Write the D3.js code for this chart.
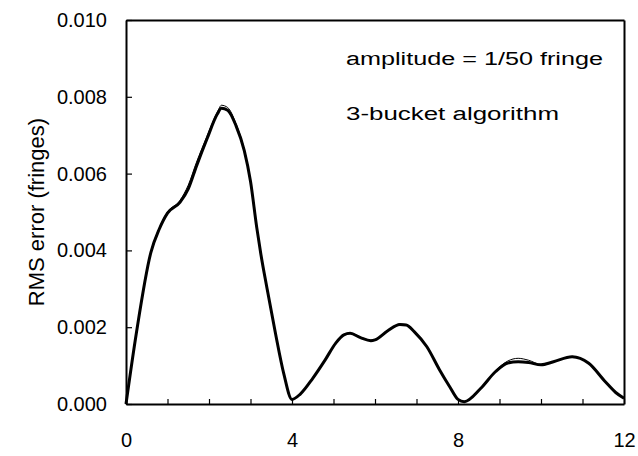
<!DOCTYPE html>
<html>
<head>
<meta charset="utf-8">
<script src="https://cdn.jsdelivr.net/npm/d3@7"></script>
<style>
  html, body { margin: 0; padding: 0; background: #fff; }
  svg { display: block; }
  text { font-family: "Liberation Sans", Arial, sans-serif; fill: #000; }
</style>
</head>
<body>
<svg id="chart" width="638" height="456"></svg>
<script>
// ---- data ----
const xValues = [0, 0.25, 0.6, 0.8, 1.0, 1.3, 1.5, 1.7, 1.95, 2.2, 2.3, 2.45, 2.65, 2.85, 3.0, 3.15, 3.25, 3.4, 3.6, 3.8, 4.0,
  4.2, 4.5, 4.8, 5.05, 5.25, 5.4, 5.65, 5.9, 6.0, 6.3, 6.6, 6.75, 6.95, 7.25, 7.55, 7.8, 8.0,
  8.15, 8.55, 8.9, 9.2, 9.45, 9.7, 10.0, 10.3, 10.75, 11.15, 11.55, 11.8, 12.0];
const rmsThick = [0, 0.00185, 0.00395, 0.00455, 0.00497, 0.00525, 0.0056, 0.0062, 0.0069, 0.00755, 0.0077, 0.00765, 0.00725, 0.0066, 0.0058, 0.0046, 0.0039, 0.0030, 0.00185, 0.0008, 0.00012,
  0.00026, 0.00067, 0.00115, 0.00158, 0.0018, 0.00184, 0.00173, 0.00165, 0.00167, 0.0019, 0.00207, 0.00206, 0.00188, 0.00149, 0.0009, 0.00045, 0.00012,
  0.00006, 0.00041, 0.00084, 0.00107, 0.0011, 0.00108, 0.00102, 0.0011, 0.00123, 0.00106, 0.00058, 0.0003, 0.00015];
const rmsThin = [0, 0.00185, 0.00397, 0.00458, 0.005, 0.0053, 0.0057, 0.0063, 0.00697, 0.0076, 0.00778, 0.00772, 0.0073, 0.00662, 0.0058, 0.0046, 0.0039, 0.0030, 0.00185, 0.0008, 0.00012,
  0.00026, 0.00067, 0.00115, 0.00158, 0.00181, 0.00185, 0.00174, 0.00166, 0.00168, 0.0019, 0.00208, 0.00207, 0.00188, 0.00149, 0.0009, 0.00045, 0.00012,
  0.00006, 0.00041, 0.00086, 0.00112, 0.00119, 0.00114, 0.00103, 0.0011, 0.00124, 0.00107, 0.00058, 0.0003, 0.00015];
const yTicks = [0, 0.002, 0.004, 0.006, 0.008, 0.010];
const xTicks = [0, 1, 2, 3, 4, 5, 6, 7, 8, 9, 10, 11, 12];
const xLabelTicks = [0, 4, 8, 12];
const annotations = ["amplitude = 1/50 fringe", "3-bucket algorithm"];
const yTitle = "RMS error (fringes)";

// ---- layout ----
const svg = d3.select("#chart");
const mLeft = 126, mRight = 624, mTop = 20, mBottom = 404;

const x = d3.scaleLinear().domain([0, 12]).range([mLeft, mRight]);
const y = d3.scaleLinear().domain([0, 0.010]).range([mBottom, mTop]);

// frame (top & right)
svg.append("g").attr("transform", `translate(0,${mTop})`)
  .call(d3.axisTop(x).tickValues([]).tickSizeOuter(0))
  .call(g => g.select(".domain").attr("stroke-width", 2));
svg.append("g").attr("transform", `translate(${mRight},0)`)
  .call(d3.axisRight(y).tickValues([]).tickSizeOuter(0))
  .call(g => g.select(".domain").attr("stroke-width", 2));

// left axis
svg.append("g").attr("transform", `translate(${mLeft},0)`)
  .call(d3.axisLeft(y).tickValues(yTicks).tickFormat(d3.format(".3f"))
    .tickSizeInner(-6).tickSizeOuter(0).tickPadding(19))
  .call(g => g.select(".domain").attr("stroke-width", 2))
  .call(g => g.selectAll(".tick line").attr("stroke-width", 1.2))
  .call(g => g.selectAll(".tick text").attr("font-size", 20).attr("font-family", "Liberation Sans, Arial, sans-serif"));

// bottom axis
svg.append("g").attr("transform", `translate(0,${mBottom})`)
  .call(d3.axisBottom(x).tickValues(xTicks)
    .tickFormat(d => xLabelTicks.includes(d) ? String(d) : "")
    .tickSizeInner(-5).tickSizeOuter(0).tickPadding(29))
  .call(g => g.select(".domain").attr("stroke-width", 2))
  .call(g => g.selectAll(".tick line").attr("stroke-width", 1.2))
  .call(g => g.selectAll(".tick text").attr("font-size", 20).attr("font-family", "Liberation Sans, Arial, sans-serif"));

// curves
const line = d3.line()
  .x((d, i) => x(xValues[i]))
  .y(d => y(d))
  .curve(d3.curveMonotoneX);

svg.append("path").datum(rmsThin)
  .attr("d", line).attr("fill", "none").attr("stroke", "#000").attr("stroke-width", 1);
svg.append("path").datum(rmsThick)
  .attr("d", line).attr("fill", "none").attr("stroke", "#000").attr("stroke-width", 3)
  .attr("stroke-linejoin", "round");

// annotations
svg.append("text").attr("x", 346).attr("y", 65).attr("font-size", 18)
  .attr("textLength", 257).attr("lengthAdjust", "spacingAndGlyphs").text(annotations[0]);
svg.append("text").attr("x", 346).attr("y", 120).attr("font-size", 18)
  .attr("textLength", 213).attr("lengthAdjust", "spacingAndGlyphs").text(annotations[1]);

// y title
svg.append("text")
  .attr("transform", `translate(44,${(mTop + mBottom) / 2}) rotate(-90)`)
  .attr("text-anchor", "middle").attr("font-size", 22)
  .text(yTitle);
</script>
</body>
</html>
